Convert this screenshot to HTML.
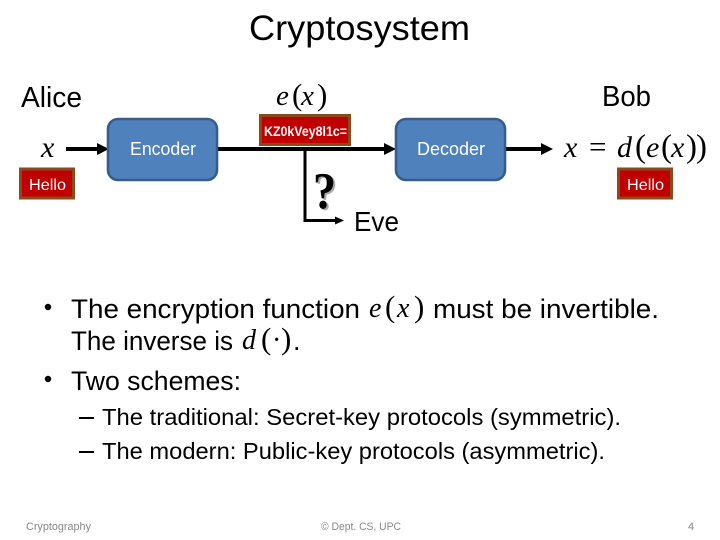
<!DOCTYPE html>
<html><head><meta charset="utf-8">
<style>
html,body{margin:0;padding:0;background:#fff;width:720px;height:540px;overflow:hidden}
svg{display:block}
text{font-family:"Liberation Sans",sans-serif;fill:#000}
.m{font-family:"Liberation Serif",serif;font-style:italic}
.u{font-family:"Liberation Serif",serif;font-weight:normal}
.w{fill:#fff}
.f{font-size:11px;fill:#898989}
</style></head><body>
<svg width="720" height="540" viewBox="0 0 720 540" xmlns="http://www.w3.org/2000/svg">
<text x="249" y="40" font-size="35" textLength="221" lengthAdjust="spacingAndGlyphs">Cryptosystem</text>
<text x="21" y="107" font-size="29" textLength="61" lengthAdjust="spacingAndGlyphs">Alice</text>
<text x="602" y="106" font-size="29" textLength="49" lengthAdjust="spacingAndGlyphs">Bob</text>

<text y="105" font-size="29"><tspan class="m" x="276">e</tspan><tspan class="u" font-size="31" x="292">(</tspan><tspan class="m" x="301">x</tspan><tspan class="u" font-size="31" x="317">)</tspan></text>
<text class="m" x="41" y="157" font-size="30">x</text>

<line x1="66" y1="149" x2="98" y2="149" stroke="#000" stroke-width="4"/>
<path d="M97 143L109 149L97 155Z" fill="#000"/>
<line x1="217" y1="149" x2="386" y2="149" stroke="#000" stroke-width="4"/>
<path d="M384 143L396 149L384 155Z" fill="#000"/>
<line x1="505" y1="149" x2="543" y2="149" stroke="#000" stroke-width="4"/>
<path d="M541 143L553 149L541 155Z" fill="#000"/>
<path d="M305 149V220.5H337" fill="none" stroke="#000" stroke-width="3"/>
<path d="M335 216.5L344 220.5L335 224.5Z" fill="#000"/>

<rect x="108" y="119" width="109" height="61" rx="10" fill="#4f81bd" stroke="#385d8a" stroke-width="2.6"/>
<text x="130" y="155" font-size="18" class="w" textLength="66" lengthAdjust="spacingAndGlyphs">Encoder</text>
<rect x="396" y="119" width="109" height="61" rx="10" fill="#4f81bd" stroke="#385d8a" stroke-width="2.6"/>
<text x="417" y="155" font-size="18" class="w" textLength="68" lengthAdjust="spacingAndGlyphs">Decoder</text>

<rect x="20.5" y="169" width="53" height="29" fill="#c00000" stroke="#8a4a1c" stroke-width="3"/>
<text x="29" y="190" font-size="16" class="w" textLength="37" lengthAdjust="spacingAndGlyphs">Hello</text>
<rect x="618.5" y="169" width="53" height="29" fill="#c00000" stroke="#8a4a1c" stroke-width="3"/>
<text x="627" y="190" font-size="16" class="w" textLength="37" lengthAdjust="spacingAndGlyphs">Hello</text>
<rect x="260.5" y="115.5" width="89" height="29" fill="#c00000" stroke="#8a4a1c" stroke-width="3"/>
<text x="264" y="136" font-size="13.5" font-weight="bold" class="w" textLength="83" lengthAdjust="spacingAndGlyphs">KZ0kVey8l1c=</text>

<text class="u" x="315" y="210" font-size="52" font-weight="bold" style="fill:#aaa;font-weight:bold" textLength="23" lengthAdjust="spacingAndGlyphs">?</text>
<text class="u" x="313" y="208.5" font-size="52" style="font-weight:bold" textLength="23" lengthAdjust="spacingAndGlyphs">?</text>
<text x="354" y="231" font-size="28" textLength="45" lengthAdjust="spacingAndGlyphs">Eve</text>

<text y="157" font-size="30"><tspan class="m" x="564">x</tspan><tspan class="u" x="589" font-size="31">=</tspan><tspan class="m" x="617">d</tspan><tspan class="u" font-size="33" x="635">(</tspan><tspan class="m" x="646">e</tspan><tspan class="u" font-size="33" x="661">(</tspan><tspan class="m" x="671">x</tspan><tspan class="u" font-size="33" x="686">)</tspan><tspan class="u" font-size="33" x="696">)</tspan></text>

<circle cx="48" cy="307" r="3.2" fill="#000"/>
<circle cx="48" cy="379" r="3.2" fill="#000"/>
<text x="71" y="318" font-size="27" textLength="289" lengthAdjust="spacingAndGlyphs">The encryption function</text>
<text y="317" font-size="28"><tspan class="m" x="369">e</tspan><tspan class="u" font-size="31" x="385">(</tspan><tspan class="m" x="397">x</tspan><tspan class="u" font-size="31" x="414">)</tspan></text>
<text x="433" y="318" font-size="27" textLength="226" lengthAdjust="spacingAndGlyphs">must be invertible.</text>
<text x="71" y="350" font-size="27" textLength="162" lengthAdjust="spacingAndGlyphs">The inverse is</text>
<text y="349" font-size="28"><tspan class="m" x="242">d</tspan><tspan class="u" font-size="31" x="261">(</tspan><tspan class="u" x="272">·</tspan><tspan class="u" font-size="31" x="281">)</tspan></text>
<text x="293" y="350" font-size="27">.</text>
<text x="71" y="390" font-size="27" textLength="170" lengthAdjust="spacingAndGlyphs">Two schemes:</text>
<rect x="79" y="417" width="15" height="2" fill="#000"/>
<rect x="79" y="451" width="15" height="2" fill="#000"/>
<text x="102" y="425" font-size="23.5" textLength="519" lengthAdjust="spacingAndGlyphs">The traditional: Secret-key protocols (symmetric).</text>
<text x="102" y="459" font-size="23.5" textLength="503" lengthAdjust="spacingAndGlyphs">The modern: Public-key protocols (asymmetric).</text>

<text x="26" y="530" class="f" textLength="65" lengthAdjust="spacingAndGlyphs">Cryptography</text>
<text x="321" y="530" class="f" textLength="80" lengthAdjust="spacingAndGlyphs">© Dept. CS, UPC</text>
<text x="688" y="530" class="f">4</text>
</svg>
</body></html>
